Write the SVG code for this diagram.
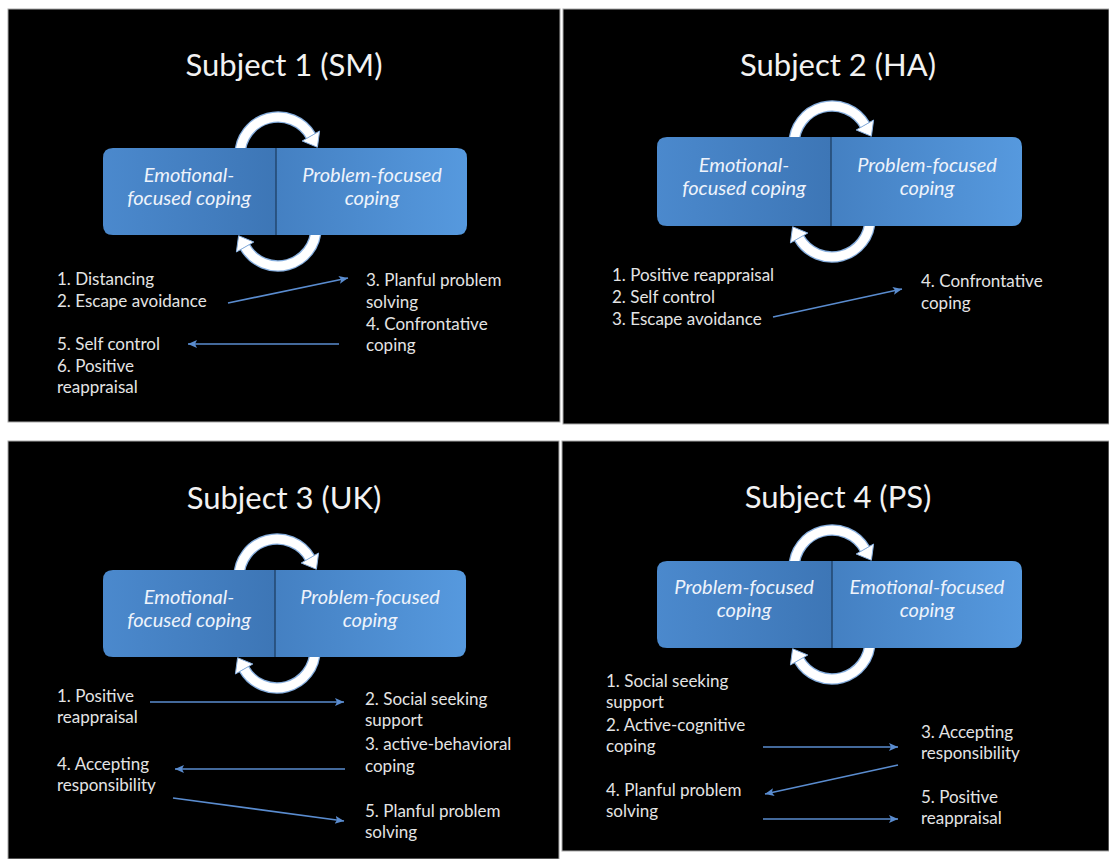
<svg xmlns="http://www.w3.org/2000/svg" width="1109" height="859" viewBox="0 0 1109 859">
<style>
.panel{fill:#000;stroke:#a8a8a8;stroke-width:1}
.title{font-family:Lato,"Liberation Sans",sans-serif;font-size:31px;fill:#f2f2f2;text-anchor:middle}
.body{font-family:Lato,"Liberation Sans",sans-serif;font-size:17px;fill:#e4e4e4}
.box{font-family:Lato,"Liberation Sans",sans-serif;font-size:20px;font-style:italic;fill:#eef3fb;text-anchor:middle}
.div{stroke:#22476f;stroke-width:1.5}
.conn{stroke:#5a8ccf;stroke-width:1.6;fill:none;marker-end:url(#ah)}
.arcg{fill:none;stroke:#86aede;stroke-width:11.5}
.arcw{fill:none;stroke:#fff;stroke-width:9}
.headg{fill:#fff;stroke:#86aede;stroke-width:1}
</style>
<defs>
<linearGradient id="gl" x1="0" y1="0" x2="1" y2="0">
<stop offset="0" stop-color="#4b89cd"/><stop offset="1" stop-color="#3d76b6"/>
</linearGradient>
<linearGradient id="gr" x1="0" y1="0" x2="1" y2="0">
<stop offset="0" stop-color="#4480c2"/><stop offset="1" stop-color="#5699de"/>
</linearGradient>
<marker id="ah" markerUnits="userSpaceOnUse" markerWidth="12" markerHeight="10" refX="9" refY="4" orient="auto">
<path d="M0,0 L9,4 L0,8 L2,4 Z" fill="#5a8ccf"/>
</marker>
<g id="topArc">
<path class="arcg" d="M -38 0 A 38 38 0 0 1 32.9 -19"/>
<path class="arcw" d="M -38 0 A 38 38 0 0 1 32.9 -19"/>
<polygon class="headg" points="39.4,-7.7 41.6,-24 24.2,-14"/>
</g>
<g id="botArc">
<path class="arcg" d="M 38 0 A 38 38 0 0 1 -32.9 19"/>
<path class="arcw" d="M 38 0 A 38 38 0 0 1 -32.9 19"/>
<polygon class="headg" points="-39.4,7.7 -24.2,14 -41.6,24"/>
</g>
</defs>
<rect width="1109" height="859" fill="#fff"/>

<g id="panel1">
<rect class="panel" x="8" y="9" width="552" height="413"/>
<text class="title" x="284" y="76">Subject 1 (SM)</text>
<g id="p1-cycles">
<use href="#topArc" x="278" y="155"/>
<use href="#botArc" x="278" y="228"/>
</g>
<g id="p1-emotional">
<path d="M113 148 H276 V235 H113 Q103 235 103 225 V158 Q103 148 113 148 Z" fill="url(#gl)"/>
<text class="box" x="189" y="182">Emotional-</text>
<text class="box" x="189" y="205">focused coping</text>
</g>
<g id="p1-problem">
<path d="M276 148 H457 Q467 148 467 158 V225 Q467 235 457 235 H276 Z" fill="url(#gr)"/>
<text class="box" x="372" y="182">Problem-focused</text>
<text class="box" x="372" y="205">coping</text>
</g>
<line class="div" x1="276" y1="148" x2="276" y2="235"/>
<g id="p1-list1"><text class="body" x="57" y="285">1. Distancing</text><text class="body" x="57" y="307">2. Escape avoidance</text></g>
<g id="p1-list2"><text class="body" x="366" y="286">3. Planful problem</text><text class="body" x="366" y="308">solving</text><text class="body" x="366" y="330">4. Confrontative</text><text class="body" x="366" y="351">coping</text></g>
<g id="p1-list3"><text class="body" x="57" y="350">5. Self control</text><text class="body" x="57" y="372">6. Positive</text><text class="body" x="57" y="393">reappraisal</text></g>
</g>

<g id="panel2">
<rect class="panel" x="563" y="9" width="546" height="415"/>
<text class="title" x="838" y="76">Subject 2 (HA)</text>
<g id="p2-cycles">
<use href="#topArc" x="832" y="144"/>
<use href="#botArc" x="832" y="219"/>
</g>
<g id="p2-emotional">
<path d="M667 137 H831 V226 H667 Q657 226 657 216 V147 Q657 137 667 137 Z" fill="url(#gl)"/>
<text class="box" x="744" y="172">Emotional-</text>
<text class="box" x="744" y="195">focused coping</text>
</g>
<g id="p2-problem">
<path d="M831 137 H1012 Q1022 137 1022 147 V216 Q1022 226 1012 226 H831 Z" fill="url(#gr)"/>
<text class="box" x="927" y="172">Problem-focused</text>
<text class="box" x="927" y="195">coping</text>
</g>
<line class="div" x1="831" y1="137" x2="831" y2="226"/>
<g id="p2-list1"><text class="body" x="612" y="281">1. Positive reappraisal</text><text class="body" x="612" y="303">2. Self control</text><text class="body" x="612" y="325">3. Escape avoidance</text></g>
<g id="p2-list2"><text class="body" x="921" y="287">4. Confrontative</text><text class="body" x="921" y="309">coping</text></g>
</g>

<g id="panel3">
<rect class="panel" x="8" y="441" width="551" height="418"/>
<text class="title" x="284" y="509">Subject 3 (UK)</text>
<g id="p3-cycles">
<use href="#topArc" x="277" y="577"/>
<use href="#botArc" x="277" y="650"/>
</g>
<g id="p3-emotional">
<path d="M113 570 H275 V657 H113 Q103 657 103 647 V580 Q103 570 113 570 Z" fill="url(#gl)"/>
<text class="box" x="189" y="604">Emotional-</text>
<text class="box" x="189" y="627">focused coping</text>
</g>
<g id="p3-problem">
<path d="M275 570 H456 Q466 570 466 580 V647 Q466 657 456 657 H275 Z" fill="url(#gr)"/>
<text class="box" x="370" y="604">Problem-focused</text>
<text class="box" x="370" y="627">coping</text>
</g>
<line class="div" x1="275" y1="570" x2="275" y2="657"/>
<g id="p3-item1"><text class="body" x="57" y="702">1. Positive</text><text class="body" x="57" y="723">reappraisal</text></g>
<g id="p3-item2"><text class="body" x="365" y="705">2. Social seeking</text><text class="body" x="365" y="726">support</text></g>
<g id="p3-item3"><text class="body" x="365" y="750">3. active-behavioral</text><text class="body" x="365" y="772">coping</text></g>
<g id="p3-item4"><text class="body" x="57" y="770">4. Accepting</text><text class="body" x="57" y="791">responsibility</text></g>
<g id="p3-item5"><text class="body" x="365" y="817">5. Planful problem</text><text class="body" x="365" y="838">solving</text></g>
</g>

<g id="panel4">
<rect class="panel" x="562" y="441" width="547" height="410"/>
<text class="title" x="838" y="508">Subject 4 (PS)</text>
<g id="p4-cycles">
<use href="#topArc" x="832" y="568"/>
<use href="#botArc" x="832" y="641"/>
</g>
<g id="p4-problem">
<path d="M667 561 H832 V648 H667 Q657 648 657 638 V571 Q657 561 667 561 Z" fill="url(#gl)"/>
<text class="box" x="744" y="594">Problem-focused</text>
<text class="box" x="744" y="617">coping</text>
</g>
<g id="p4-emotional">
<path d="M832 561 H1012 Q1022 561 1022 571 V638 Q1022 648 1012 648 H832 Z" fill="url(#gr)"/>
<text class="box" x="927" y="594">Emotional-focused</text>
<text class="box" x="927" y="617">coping</text>
</g>
<line class="div" x1="832" y1="561" x2="832" y2="648"/>
<g id="p4-item1"><text class="body" x="606" y="687">1. Social seeking</text><text class="body" x="606" y="708">support</text></g>
<g id="p4-item2"><text class="body" x="606" y="731">2. Active-cognitive</text><text class="body" x="606" y="752">coping</text></g>
<g id="p4-item3"><text class="body" x="921" y="738">3. Accepting</text><text class="body" x="921" y="759">responsibility</text></g>
<g id="p4-item4"><text class="body" x="606" y="796">4. Planful problem</text><text class="body" x="606" y="817">solving</text></g>
<g id="p4-item5"><text class="body" x="921" y="803">5. Positive</text><text class="body" x="921" y="824">reappraisal</text></g>
</g>

<g id="connectors">
<line class="conn" x1="228" y1="303" x2="348" y2="278"/>
<line class="conn" x1="339" y1="344" x2="188" y2="344"/>
<line class="conn" x1="773" y1="317" x2="902" y2="289"/>
<line class="conn" x1="150" y1="702" x2="344" y2="702"/>
<line class="conn" x1="345" y1="769" x2="175" y2="769"/>
<line class="conn" x1="173" y1="798" x2="344" y2="821"/>
<line class="conn" x1="763" y1="747" x2="898" y2="747"/>
<line class="conn" x1="898" y1="765" x2="765" y2="794"/>
<line class="conn" x1="763" y1="819" x2="898" y2="819"/>
</g>
</svg>
